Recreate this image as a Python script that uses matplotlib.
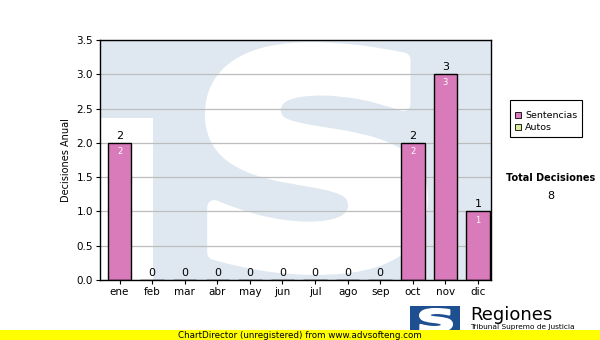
import matplotlib
matplotlib.use("Agg")
import matplotlib.pyplot as plt
from matplotlib.patches import Rectangle, PathPatch
from matplotlib.textpath import TextPath
from matplotlib.font_manager import FontProperties
from matplotlib.transforms import Affine2D

months = ["ene", "feb", "mar", "abr", "may", "jun", "jul", "ago", "sep", "oct", "nov", "dic"]
sentencias = [2, 0, 0, 0, 0, 0, 0, 0, 0, 2, 3, 1]
autos = [0, 0, 0, 0, 0, 0, 0, 0, 0, 0, 0, 0]
yticks = [0.0, 0.5, 1.0, 1.5, 2.0, 2.5, 3.0, 3.5]
total = sum(sentencias) + sum(autos)

plt.rcParams['font.family'] = ['DejaVu Sans']
fig = plt.figure(figsize=(6, 3.4), dpi=100)
ax = fig.add_axes([100/600, 60/340, 391/600, 240/340])


def glyph_patch(char, box, transform, color, lw, zorder):
    tp = TextPath((0, 0), char, size=1, prop=FontProperties(family='DejaVu Sans', weight='bold'))
    ext = tp.get_extents()
    x0, y0, x1, y1 = box
    tr = (Affine2D().translate(-ext.x0, -ext.y0)
          .scale((x1 - x0) / ext.width, (y1 - y0) / ext.height)
          .translate(x0, y0))
    p = tr.transform_path(tp)
    return PathPatch(p, transform=transform, facecolor=color, edgecolor=color, lw=lw,
                     zorder=zorder, clip_on=True, joinstyle='round')


# watermark background
ax.set_facecolor('#dfe8f1')
ax.add_patch(Rectangle((0, 0), 0.135, 0.675, transform=ax.transAxes, color='white', zorder=0.1, lw=0))
ax.add_patch(glyph_patch("S", (0.286, 0.05, 0.821, 0.962), ax.transAxes, 'white', 10, 0.2))

x = list(range(len(months)))
ax.set_axisbelow(True)
ax.yaxis.grid(True, color='#bdbdbd', lw=0.9, zorder=0.5)
ax.bar(x, sentencias, width=0.72, color='#d97bbb', edgecolor='black', lw=1, zorder=2)
for xi, v in zip(x, sentencias):
    ax.text(xi, v + 0.03, str(v), ha='center', va='bottom', fontsize=8, color='black', zorder=3)
    if v > 0:
        ax.text(xi, v - 0.06, str(v), ha='center', va='top', fontsize=6, color='white', zorder=3)

ax.set_xlim(-0.6, 11.4)
ax.set_ylim(0, 3.5)
ax.set_yticks(yticks)
ax.set_yticklabels([f"{t:.1f}" for t in yticks], fontsize=7.5)
ax.set_xticks(x)
ax.set_xticklabels(months, fontsize=7.5)
ax.tick_params(axis='both', length=3, width=0.8, direction='out', pad=2)
for s in ax.spines.values():
    s.set_linewidth(1)
ax.set_ylabel("Decisiones Anual", fontsize=7, labelpad=4)

# legend box
fig.patches.append(Rectangle((510/600, 1 - 137/340), 72/600, 37/340, transform=fig.transFigure,
                             facecolor='white', edgecolor='black', lw=0.8))
fig.patches.append(Rectangle((515/600, 1 - 118/340), 6/600, 6/340, transform=fig.transFigure,
                             facecolor='#d97bbb', edgecolor='black', lw=0.6))
fig.patches.append(Rectangle((515/600, 1 - 130/340), 6/600, 6/340, transform=fig.transFigure,
                             facecolor='#d8ec9e', edgecolor='black', lw=0.6))
fig.text(525/600, 1 - 115/340, "Sentencias", fontsize=6.8, va='center', ha='left')
fig.text(525/600, 1 - 127/340, "Autos", fontsize=6.8, va='center', ha='left')

fig.text(551/600, 1 - 178/340, "Total Decisiones", fontsize=7, fontweight='bold', ha='center', va='center')
fig.text(551/600, 1 - 196/340, str(total), fontsize=8, ha='center', va='center')

# logo
fig.patches.append(Rectangle((410/600, 1 - 333/340), 50/600, 27/340, transform=fig.transFigure,
                             facecolor='#1d4f91', edgecolor='none'))
fig.patches.append(glyph_patch("S", (420/600, 1 - 331/340, 452/600, 1 - 309/340), fig.transFigure,
                               'white', 1.5, 3))
fig.text(470/600, 1 - 315/340, "Regiones", fontsize=13, ha='left', va='center')
fig.text(470/600, 1 - 327/340, "Tribunal Supremo de Justicia", fontsize=5.3, ha='left', va='center')

# bottom yellow bar
fig.patches.append(Rectangle((0, 0), 1, 10/340, transform=fig.transFigure, facecolor='#ffff00',
                             edgecolor='none', zorder=5))
fig.text(300/600, 5/340, "ChartDirector (unregistered) from www.advsofteng.com", fontsize=6.3,
         ha='center', va='center', zorder=6)

fig.savefig("out.png", dpi=100)
